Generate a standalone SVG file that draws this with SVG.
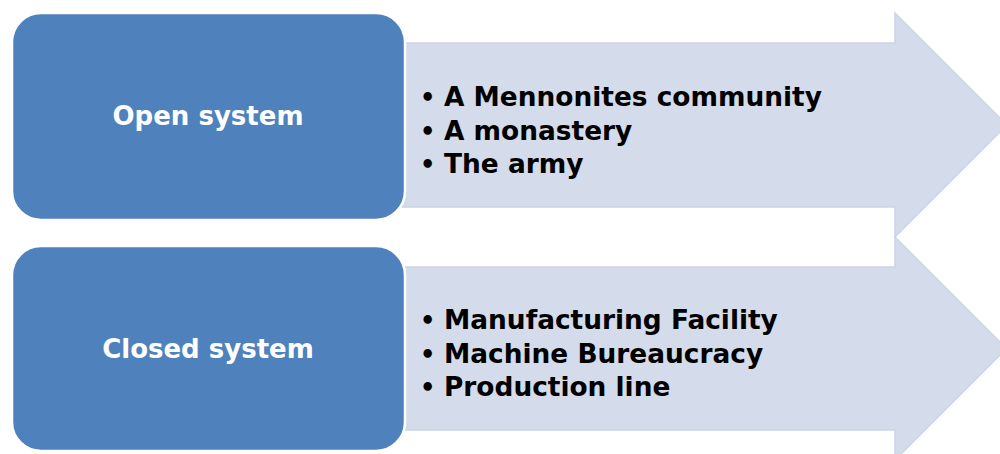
<svg xmlns="http://www.w3.org/2000/svg" width="1000" height="454" viewBox="0 0 1000 454">
<style>
.arrow{fill:#d4dbea;stroke:#ccd4e7;stroke-width:1.5}
.box{fill:#4f81bd;stroke:#ffffff;stroke-width:2.5}
.lbl{font-family:"DejaVu Sans",Verdana,sans-serif;font-weight:bold;font-size:26px;fill:#ffffff;text-anchor:middle}
.item{font-family:"DejaVu Sans",Verdana,sans-serif;font-weight:bold;font-size:26.4px;fill:#000000}
.bul{font-family:"DejaVu Sans",Verdana,sans-serif;font-weight:bold;font-size:24px;fill:#000000}
</style>
<rect width="1000" height="454" fill="#ffffff"/>
<g id="connectors">
<path id="arrow1" class="arrow" d="M400,43 H895 V13 L1007,125 L895,237 V207 H400 Z"/>
<path id="arrow2" class="arrow" d="M400,267 H895 V237 L1006.5,348.5 L895,460 V430 H400 Z"/>
</g>
<g id="open-items">
<text class="bul" x="420" y="106">•</text><text class="item" x="444" y="106">A Mennonites community</text>
<text class="bul" x="420" y="139.5">•</text><text class="item" x="444" y="139.5">A monastery</text>
<text class="bul" x="420" y="173">•</text><text class="item" x="444" y="173">The army</text>
</g>
<g id="closed-items">
<text class="bul" x="420" y="329">•</text><text class="item" x="444" y="329">Manufacturing Facility</text>
<text class="bul" x="420" y="362.5">•</text><text class="item" x="444" y="362.5">Machine Bureaucracy</text>
<text class="bul" x="420" y="396">•</text><text class="item" x="444" y="396">Production line</text>
</g>
<g id="open-system">
<rect class="box" x="12" y="13" width="393" height="207" rx="29" ry="29"/>
<text class="lbl" x="208" y="125">Open system</text>
</g>
<g id="closed-system">
<rect class="box" x="12" y="246" width="393" height="205" rx="29" ry="29"/>
<text class="lbl" x="208" y="358">Closed system</text>
</g>
</svg>
